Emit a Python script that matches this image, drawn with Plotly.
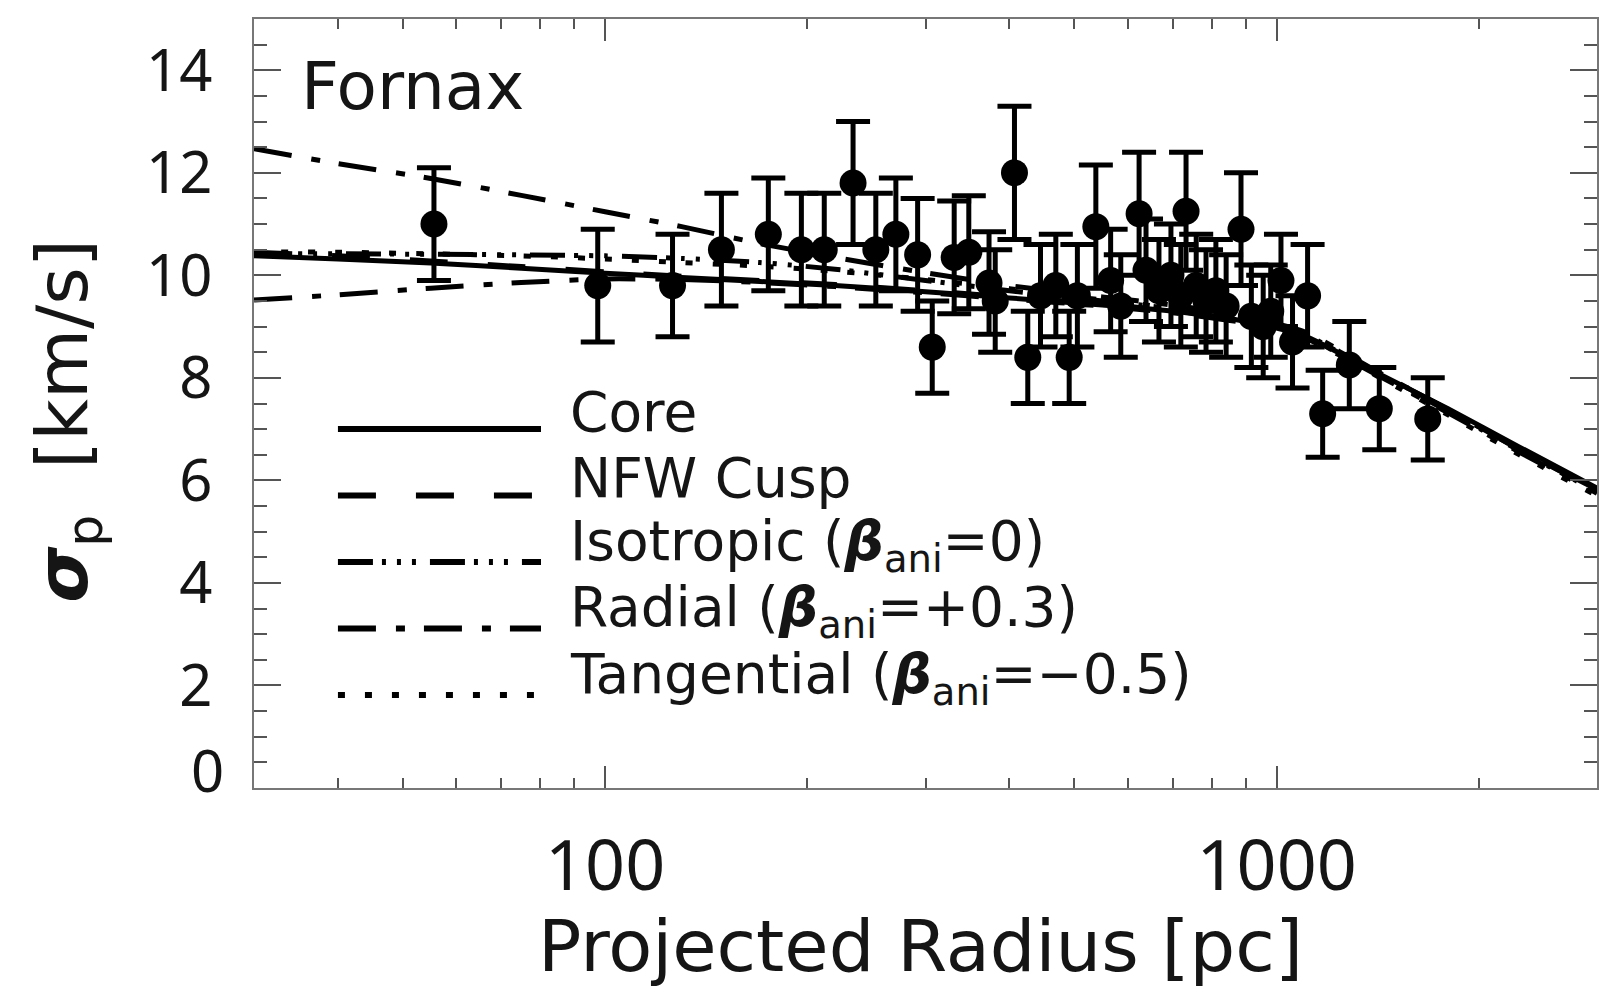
import plotly.graph_objects as go

# Observed projected velocity dispersion profile (binned stars)
radius_pc = [55.6, 97.5, 126, 149, 175, 196, 212, 234, 253, 271, 292, 307, 331, 348,
             373, 381, 407, 426, 445, 469, 491, 505, 538, 566, 586, 624, 639, 668,
             696, 720, 733, 759, 785, 812, 841, 885, 917, 955, 980, 1015, 1056,
             1112, 1171, 1283, 1422, 1679]
sigma_obs = [11.0, 9.8, 9.8, 10.5, 10.8, 10.5, 10.5, 11.8, 10.5, 10.8, 10.4, 8.6, 10.35,
             10.45, 9.85, 9.5, 12.0, 8.4, 9.6, 9.8, 8.4, 9.6, 10.95, 9.9, 9.4, 11.2,
             10.1, 9.7, 10.0, 9.6, 11.25, 9.8, 9.5, 9.7, 9.4, 10.9, 9.2, 9.0, 9.3,
             9.9, 8.7, 9.6, 7.3, 8.25, 7.4, 7.2]
sigma_err = [1.1, 1.1, 1.0, 1.1, 1.1, 1.1, 1.1, 1.2, 1.1, 1.1, 1.1, 0.9, 1.1, 1.1,
             1.0, 1.0, 1.3, 0.9, 1.0, 1.0, 0.9, 1.0, 1.2, 1.0, 1.0, 1.2, 1.0, 1.0,
             1.0, 1.0, 1.15, 1.0, 1.0, 1.0, 1.0, 1.1, 1.0, 1.0, 0.9, 0.9, 0.9,
             1.0, 0.85, 0.85, 0.8, 0.8]

# Model dispersion curves sampled along radius
model_radius = [30, 40, 55, 75, 100, 130, 170, 220, 300, 400, 550, 700, 900, 1100,
                1400, 1800, 2300, 3000]
sigma_core = [10.38, 10.32, 10.24, 10.14, 10.04, 9.96, 9.88, 9.80, 9.68, 9.56, 9.42,
              9.30, 9.10, 8.82, 8.12, 7.40, 6.65, 5.85]
sigma_nfw = [10.45, 10.38, 10.28, 10.17, 10.07, 9.98, 9.90, 9.82, 9.70, 9.58, 9.44,
             9.31, 9.12, 8.85, 8.14, 7.38, 6.60, 5.80]
sigma_iso = [10.42, 10.42, 10.41, 10.40, 10.38, 10.33, 10.25, 10.12, 9.90, 9.70, 9.50,
             9.35, 9.15, 8.85, 8.10, 7.35, 6.58, 5.78]
sigma_rad = [12.47, 12.18, 11.89, 11.56, 11.24, 10.95, 10.62, 10.35, 10.05, 9.80, 9.58,
             9.42, 9.20, 8.90, 8.15, 7.38, 6.60, 5.82]
sigma_tan = [10.46, 10.45, 10.42, 10.38, 10.32, 10.25, 10.18, 10.08, 9.92, 9.74, 9.52,
             9.36, 9.14, 8.83, 8.06, 7.28, 6.50, 5.70]
sigma_low = [9.52, 9.62, 9.75, 9.86, 9.93, 9.92, 9.86, 9.78, 9.66, 9.54, 9.40, 9.27,
             9.07, 8.78, 8.08, 7.32, 6.55, 5.75]

legend_labels = [
    "Core",
    "NFW Cusp",
    "Isotropic (<b><i>β</i></b><sub>ani</sub>=0)",
    "Radial (<b><i>β</i></b><sub>ani</sub>=+0.3)",
    "Tangential (<b><i>β</i></b><sub>ani</sub>=−0.5)",
]

y_tick_vals = [0, 2, 4, 6, 8, 10, 12, 14]
x_tick_vals = [100, 1000]
x_minor_vals = [40, 50, 60, 70, 80, 90, 200, 300, 400, 500, 600, 700, 800, 900, 2000, 3000]

FONT = "DejaVu Sans"
TICK_FONT = "Noto Sans"
INK = "#151515"
DASH_SOLID = "solid"
DASH_NFW = "38px,40px"
DASH_ISO = "35px,9px,4px,11px,4px,11px,4px,14px"
DASH_RAD = "38px,20px,9px,19px"
DASH_TAN = "7px,20px"

fig = go.Figure()

model_styles = [
    (sigma_core, DASH_SOLID),
    (sigma_nfw, DASH_NFW),
    (sigma_iso, DASH_ISO),
    (sigma_rad, DASH_RAD),
    (sigma_tan, DASH_TAN),
    (sigma_low, DASH_RAD),
]
for values, dash in model_styles:
    fig.add_trace(go.Scatter(
        x=model_radius, y=values, mode="lines",
        line=dict(color="black", width=5, dash=dash, shape="spline", smoothing=0.6),
        showlegend=False, hoverinfo="skip",
    ))

fig.add_trace(go.Scatter(
    x=radius_pc, y=sigma_obs, mode="markers",
    marker=dict(size=27, color="black"),
    error_y=dict(type="data", array=sigma_err, thickness=5, width=17, color="black"),
    showlegend=False,
))

# Legend keys and labels inside the plotting area
legend_dashes = [DASH_SOLID, DASH_NFW, DASH_ISO, DASH_RAD, DASH_TAN]
legend_top = 0.467
legend_step = 0.0865
for i, (label, dash) in enumerate(zip(legend_labels, legend_dashes)):
    yp = legend_top - i * legend_step
    fig.add_shape(type="line", xref="paper", yref="paper",
                  x0=0.0625, x1=0.2137, y0=yp, y1=yp,
                  line=dict(color="black", width=6, dash=dash))
    fig.add_annotation(xref="paper", yref="paper", x=0.2338, y=yp, yshift=17,
                       xanchor="left", yanchor="middle", showarrow=False,
                       text=label, font=dict(family=FONT, size=55, color=INK))

fig.add_annotation(xref="paper", yref="paper", x=0.0335, y=0.912,
                   xanchor="left", yanchor="middle", showarrow=False,
                   text="Fornax", font=dict(family=FONT, size=66, color=INK))

# Axis titles
fig.add_annotation(xref="paper", yref="paper", x=0.496, y=-0.206,
                   xanchor="center", yanchor="middle", showarrow=False,
                   text="Projected Radius [pc]",
                   font=dict(family=FONT, size=72, color=INK))
fig.add_annotation(xref="paper", yref="paper", x=-0.139, y=0.478,
                   xanchor="center", yanchor="middle", showarrow=False, textangle=-90,
                   text="<b><i>σ</i></b><sub>p</sub>  [km/s]",
                   font=dict(family=FONT, size=72, color=INK))

# The zero label sits a little above its tick
fig.add_annotation(xref="paper", yref="y", x=0, y=0, xshift=-28, yshift=19,
                   xanchor="right", yanchor="middle", showarrow=False,
                   text="0", font=dict(family=TICK_FONT, size=58, color=INK))

fig.update_layout(
    width=1615, height=997,
    margin=dict(l=254, r=18, t=19, b=209),
    paper_bgcolor="white", plot_bgcolor="white",
    font=dict(family=FONT, size=56, color=INK),
    showlegend=False,
)
fig.update_xaxes(
    type="log", range=[1.4771, 3.4771],
    tickvals=x_tick_vals, ticktext=[str(v) for v in x_tick_vals],
    ticks="inside", ticklen=22, tickwidth=2, tickcolor="#555",
    minor=dict(tickvals=x_minor_vals, ticks="inside", ticklen=10, tickwidth=2, tickcolor="#555"),
    showline=True, linecolor="#777", linewidth=2, mirror="ticks",
    showgrid=False, zeroline=False,
    tickfont=dict(family=TICK_FONT, size=70, color=INK),
    ticklabelstandoff=16,
)
fig.update_yaxes(
    range=[0, 15],
    tickvals=y_tick_vals, ticktext=[""] + [str(v) for v in y_tick_vals[1:]],
    ticks="inside", ticklen=27, tickwidth=2, tickcolor="#555",
    minor=dict(dtick=0.5, ticks="inside", ticklen=13, tickwidth=2, tickcolor="#555"),
    showline=True, linecolor="#777", linewidth=2, mirror="ticks",
    showgrid=False, zeroline=False,
    tickfont=dict(family=TICK_FONT, size=58, color=INK),
    ticklabelstandoff=28,
)

fig.write_html("out.html")
